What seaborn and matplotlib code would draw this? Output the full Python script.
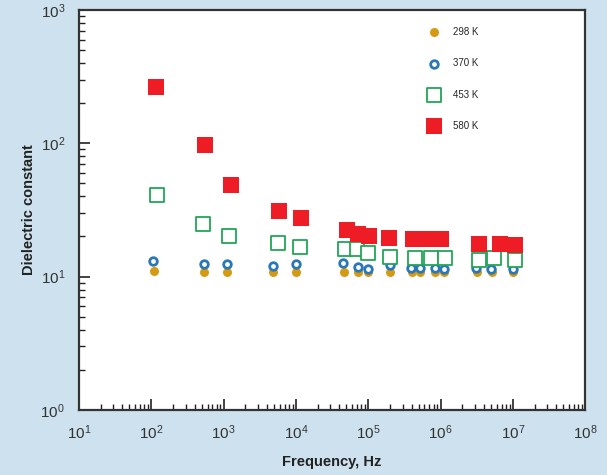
# -*- coding: utf-8 -*-
# Dielectric constant vs frequency at four temperatures (log-log)

import matplotlib
matplotlib.use("Agg")
import matplotlib.pyplot as plt
import matplotlib.ticker as mticker
import pandas as pd
import seaborn as sns

# Data
freq_298 = [110, 540, 1100, 4900, 10000, 46000, 72000, 100000, 200000, 400000,
            520000, 830000, 1100000, 3200000, 5100000, 10000000]
eps_298 = [11.1, 10.8, 10.8, 10.8, 10.9, 10.9, 10.8, 10.8, 10.8, 10.9,
           10.8, 10.9, 10.9, 10.9, 10.9, 10.9]

freq_370 = [105, 540, 1100, 4800, 10000, 45000, 72000, 98000, 200000, 390000,
            520000, 830000, 1100000, 3100000, 5000000, 10000000]
eps_370 = [13.2, 12.5, 12.5, 12.1, 12.5, 12.7, 11.9, 11.5, 12.3, 11.7,
           11.7, 11.7, 11.5, 11.7, 11.5, 11.5]

freq_453 = [120, 515, 1200, 5600, 11500, 48000, 70000, 98000, 200000, 440000,
            750000, 1150000, 3400000, 5500000, 10700000]
eps_453 = [40.6, 24.7, 20.3, 18.0, 16.8, 16.0, 16.0, 15.1, 14.1, 13.9,
           13.9, 13.9, 13.4, 13.7, 13.4]

freq_580 = [117, 550, 1250, 5800, 11700, 51000, 72000, 103000, 195000, 410000,
            635000, 1000000, 3400000, 6600000, 10700000]
eps_580 = [263, 96.6, 49, 31.3, 27.6, 22.5, 20.7, 20.0, 19.6, 19.3,
           19.3, 19.3, 17.7, 17.7, 17.4]

labels = ["298 K", "370 K", "453 K", "580 K"]

sns.set_style("white")
plt.rcParams["font.family"] = ["Liberation Sans", "DejaVu Sans"]

bg = "#cde2ee"
fig = plt.figure(figsize=(6.07, 4.75), dpi=100, facecolor=bg)
ax = fig.add_axes([0.130, 0.137, 0.834, 0.842])
ax.set_facecolor("white")

# 298 K - filled gold dots
sns.scatterplot(x=freq_298, y=eps_298, ax=ax, marker="o", s=42,
                color="#d59a12", edgecolor="#d59a12", linewidth=0, label=labels[0])
# 370 K - open blue rings
sns.scatterplot(x=freq_370, y=eps_370, ax=ax, marker="o", s=30,
                facecolor="white", edgecolor="#2a78b8", linewidth=2.0, label=labels[1])
# 453 K - open green squares
sns.scatterplot(x=freq_453, y=eps_453, ax=ax, marker="s", s=95,
                facecolor="white", edgecolor="#22a655", linewidth=1.3, label=labels[2])
# 580 K - filled red squares
sns.scatterplot(x=freq_580, y=eps_580, ax=ax, marker="s", s=120,
                color="#ee1c25", edgecolor="#ee1c25", linewidth=0, label=labels[3])

ax.set_xscale("log")
ax.set_yscale("log")
ax.set_xlim(10, 1e8)
ax.set_ylim(1, 1000)

ax.xaxis.set_major_locator(mticker.LogLocator(base=10, numticks=10))
ax.xaxis.set_minor_locator(mticker.LogLocator(base=10, subs=range(2, 10), numticks=20))
ax.yaxis.set_major_locator(mticker.LogLocator(base=10, numticks=10))
ax.yaxis.set_minor_locator(mticker.LogLocator(base=10, subs=range(2, 10), numticks=20))

ax.tick_params(axis="both", which="both", direction="in", top=False, right=False,
               bottom=True, left=True, colors="#222222")
ax.tick_params(axis="both", which="major", length=8, width=1.2, labelsize=11,
               labelcolor="#333333", pad=10)
ax.tick_params(axis="both", which="minor", length=4, width=1.0)

for sp in ax.spines.values():
    sp.set_color("#333333")
    sp.set_linewidth(1.6)

ax.set_xlabel("Frequency, Hz", fontsize=10.5, fontweight="bold", labelpad=9,
              color="#222222")
ax.set_ylabel("Dielectric constant", fontsize=10.5, fontweight="bold", labelpad=3,
              color="#222222")

leg = ax.legend(loc="upper left", bbox_to_anchor=(0.665, 0.98), frameon=False,
                fontsize=7, labelspacing=2.2, handletextpad=0.9, markerscale=1.0)

fig.savefig("out.png", dpi=100, facecolor=bg)
